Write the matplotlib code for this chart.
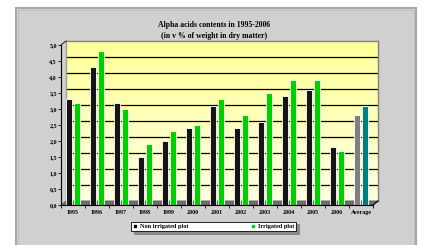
import matplotlib
matplotlib.use("Agg")
import matplotlib.pyplot as plt
import numpy as np
from matplotlib.patches import Rectangle, Polygon
from matplotlib.lines import Line2D

years = ["1995", "1996", "1997", "1998", "1999", "2000", "2001",
         "2002", "2003", "2004", "2005", "2006", "Average"]
non_irrigated = [3.3, 4.3, 3.2, 1.5, 2.0, 2.4, 3.1, 2.4, 2.6, 3.4, 3.6, 1.8, 2.8]
irrigated = [3.2, 4.8, 3.0, 1.9, 2.3, 2.5, 3.3, 2.8, 3.5, 3.9, 3.9, 1.7, 3.1]
yticks = [0.0, 0.5, 1.0, 1.5, 2.0, 2.5, 3.0, 3.5, 4.0, 4.5, 5.0]

plt.rcParams['font.family'] = ['Liberation Serif', 'DejaVu Serif']
plt.rcParams['font.weight'] = 'bold'

W, H = 422, 245
fig = plt.figure(figsize=(W / 100, H / 100), dpi=100)
fig.patch.set_facecolor('white')


def rect(x0, y0, x1, y1):
    return [x0 / W, 1 - y1 / H, (x1 - x0) / W, (y1 - y0) / H]


def fp(x, y):
    return (x / W, 1 - y / H)


# grey panel
fig.patches.append(Rectangle(fp(16, 250), 400 / W, 242 / H, transform=fig.transFigure,
                             facecolor='#d0d0d0', edgecolor='#a8a8a8', lw=1.5, zorder=-5))
fig.patches.append(Rectangle(fp(18, 250), 396 / W, 240 / H, transform=fig.transFigure,
                             facecolor='none', edgecolor='#bdbdbd', lw=0.6, zorder=-4))

fig.text(214 / W, 1 - 25 / H, "Alpha acids contents in 1995-2006", ha='center', va='center',
         fontsize=5.6, fontweight='bold')
fig.text(214 / W, 1 - 35.5 / H, "(in v % of weight in dry matter)", ha='center', va='center',
         fontsize=5.6, fontweight='bold')

# back wall
back = fig.add_axes(rect(66, 41, 378, 201), zorder=0)
grad = np.linspace(0, 1, 100).reshape(-1, 1)
cmap = matplotlib.colors.LinearSegmentedColormap.from_list('y', ['#ffffe0', '#ffff99'])
back.imshow(grad, extent=[0, 1, 0, 5], aspect='auto', origin='lower', cmap=cmap)
back.set_xlim(0, 1)
back.set_ylim(0, 5)
for t in yticks[1:-1]:
    back.axhline(t, color='black', lw=0.9)
back.set_xticks([])
back.set_yticks([])
for s in back.spines.values():
    s.set_color('#808080')
    s.set_linewidth(1.0)
back.spines['left'].set_color('#a0a0a0')

# floor
fig.patches.append(Polygon([fp(61, 205), fp(373, 205), fp(378, 201), fp(66, 201)],
                           closed=True, transform=fig.transFigure,
                           facecolor='#707070', edgecolor='#505050', lw=0.5, zorder=1))

# front axes with bars
ax = fig.add_axes(rect(61, 45, 373, 205), zorder=2)
ax.patch.set_alpha(0)
x = np.arange(len(years))
c1 = ['#151515'] * 12 + ['#7f7f7f']
c2 = ['#00d000'] * 12 + ['#007f7f']
ax.bar(x - 0.17, non_irrigated, width=0.26, color=c1, edgecolor='white', lw=0.6)
ax.bar(x + 0.17, irrigated, width=0.26, color=c2, edgecolor='white', lw=0.6)
ax.set_xlim(-0.5, len(years) - 0.5)
ax.set_ylim(0, 5)
ax.set_yticks(yticks)
ax.set_yticklabels([f"{v:.1f}".replace('.', ',') for v in yticks], fontsize=4.3, fontweight='bold')
ax.set_xticks(x)
ax.set_xticklabels(years, fontsize=4.3, fontweight='bold')
ax.set_xticks(np.arange(-0.5, len(years)), minor=True)
ax.tick_params(axis='x', which='major', length=0, pad=3.5)
ax.tick_params(axis='x', which='minor', length=2, width=0.6)
ax.tick_params(axis='y', length=2, width=0.6, pad=1)
for s in ['top', 'right']:
    ax.spines[s].set_visible(False)
for s in ['left', 'bottom']:
    ax.spines[s].set_linewidth(0.8)

fig.lines.append(Line2D([373 / W, 378 / W], [1 - 205 / H, 1 - 201 / H],
                        transform=fig.transFigure, color='black', lw=0.8, zorder=3))
fig.lines.append(Line2D([61 / W, 66 / W], [1 - 45 / H, 1 - 41 / H],
                        transform=fig.transFigure, color='black', lw=0.6, zorder=3))

handles = [Line2D([], [], ls='none', marker='s', ms=1.8, color='black'),
           Line2D([], [], ls='none', marker='s', ms=1.8, color='#00d000')]
leg = fig.legend(handles, ["Non irrigated plot", "Irrigated plot"], ncol=2,
                 loc='center', bbox_to_anchor=fp(213.5, 226.5), frameon=True,
                 fancybox=False, shadow=True, handlelength=0.8,
                 handletextpad=0.3, columnspacing=10, borderpad=0.35,
                 prop={'weight': 'bold', 'size': 4.5})
leg.get_frame().set_edgecolor('black')
leg.get_frame().set_linewidth(0.6)

fig.savefig('out.png', dpi=100)
